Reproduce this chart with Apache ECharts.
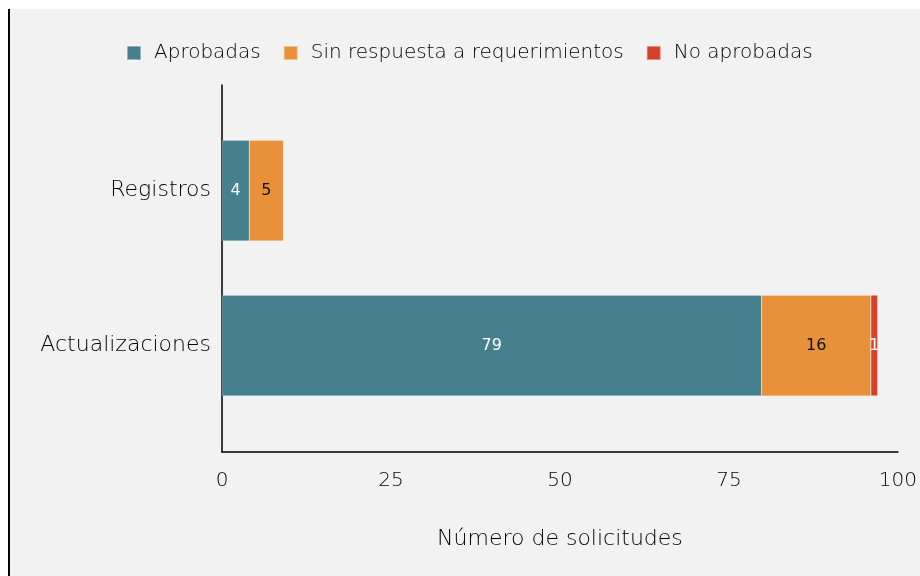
<!DOCTYPE html>
<html><head><meta charset="utf-8">
<script src="https://cdn.jsdelivr.net/npm/echarts@6/dist/echarts.min.js"></script>
<style>
html,body{margin:0;padding:0;background:#fff;width:920px;height:576px;overflow:hidden}
#c{position:absolute;left:8px;top:9px;width:910px;height:567px;border-left:2px solid #000;background:#f2f2f2}
</style></head><body>
<div id="c"></div>
<script>
const categories = ['Actualizaciones', 'Registros'];
const aprobadas = [79, 4];
const sinRespuesta = [16, 5];
const noAprobadas = [1, 0];
const xTicks = [0, 25, 50, 75, 100];
const seriesNames = ['Aprobadas', 'Sin respuesta a requerimientos', 'No aprobadas'];
const colors = ['#46808e', '#e8913a', '#d2432a'];

const FONT = 'DejaVu Sans';
const W = 300;
const TXT = '#000';
const chart = echarts.init(document.getElementById('c'), null, {renderer: 'canvas'});
function lbl(color) {
  return {show: true, position: 'inside', color: color, fontFamily: FONT, fontSize: 16,
    formatter: p => p.value > 0 ? p.value : ''};
}
chart.setOption({
  backgroundColor: '#f2f2f2',
  color: colors,
  textStyle: {fontFamily: FONT},
  legend: {
    top: 29, left: 111, itemWidth: 14, itemHeight: 14, itemGap: 22,
    icon: 'rect',
    textStyle: {fontFamily: FONT, fontWeight: W, fontSize: 20, color: TXT, padding: [0, 0, 0, 8]},
    data: seriesNames
  },
  grid: [
    {left: 212, right: 15, top: 76, bottom: 124},
    {left: 212, right: 15, top: 104, bottom: 153}
  ],
  xAxis: [
    {gridIndex: 0, type: 'value', min: xTicks[0], max: xTicks[xTicks.length - 1], interval: 25,
     axisLine: {show: true, lineStyle: {color: '#000', width: 1.5}}, axisTick: {show: false},
     splitLine: {show: false},
     axisLabel: {color: TXT, fontSize: 20, fontWeight: W, fontFamily: FONT, margin: 19, showMaxLabel: true},
     name: 'Número de solicitudes', nameLocation: 'middle', nameGap: 76,
     nameTextStyle: {color: TXT, fontSize: 22, fontWeight: W, fontFamily: FONT}},
    {gridIndex: 1, type: 'value', min: 0, max: 100, show: false}
  ],
  yAxis: [
    {gridIndex: 0, type: 'category', data: [''],
     axisLine: {show: true, lineStyle: {color: '#000', width: 1.5}}, axisTick: {show: false}, axisLabel: {show: false}},
    {gridIndex: 1, type: 'category', data: categories,
     axisLine: {show: false}, axisTick: {show: false},
     axisLabel: {color: TXT, fontSize: 22, fontWeight: W, fontFamily: FONT, margin: 11}}
  ],
  series: [
    {name: seriesNames[0], type: 'bar', stack: 's', xAxisIndex: 1, yAxisIndex: 1, barWidth: '65%',
     data: aprobadas, label: lbl('#fff'), itemStyle: {borderColor: 'rgba(255,255,255,0.4)', borderWidth: 0.5}},
    {name: seriesNames[1], type: 'bar', stack: 's', xAxisIndex: 1, yAxisIndex: 1, barWidth: '65%',
     data: sinRespuesta, label: lbl('#111'), itemStyle: {borderColor: 'rgba(255,255,255,0.4)', borderWidth: 0.5}},
    {name: seriesNames[2], type: 'bar', stack: 's', xAxisIndex: 1, yAxisIndex: 1, barWidth: '65%',
     data: noAprobadas, label: lbl('#fff'), itemStyle: {borderColor: 'rgba(255,255,255,0.4)', borderWidth: 0.5}}
  ]
});
</script></body></html>
